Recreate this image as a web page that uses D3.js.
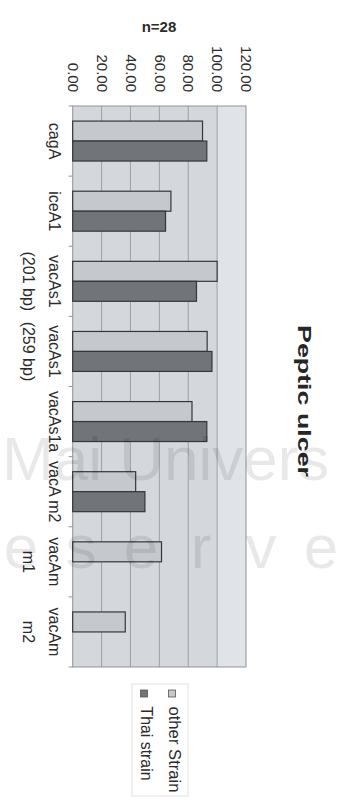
<!DOCTYPE html>
<html>
<head>
<meta charset="utf-8">
<script src="https://cdn.jsdelivr.net/npm/d3@7"></script>
<style>
  html, body { margin: 0; padding: 0; background: #ffffff; }
  svg { display: block; font-family: "Liberation Sans", Arial, sans-serif; }
</style>
</head>
<body>
<svg id="chart" width="340" height="801"></svg>
<script>
// Prevalence (%) of virulence genes in peptic ulcer isolates, n = 28
const categories = ["cagA", "iceA1", "vacAs1 (201 bp)", "vacAs1 (259 bp)", "vacAs1a", "vacA m2", "vacAm m1", "vacAm m2"];
const categoryLines = [["cagA"], ["iceA1"], ["vacAs1", "(201 bp)"], ["vacAs1", "(259 bp)"], ["vacAs1a"], ["vacA m2"], ["vacAm", "m1"], ["vacAm", "m2"]];
const seriesNames = ["other Strain", "Thai strain"];
const otherStrain = [89.9, 68.0, 100.0, 93.1, 82.6, 43.6, 61.5, 36.4];
const thaiStrain = [92.86, 64.29, 85.71, 96.43, 92.86, 50.0, null, null];
const tickValues = [0, 20, 40, 60, 80, 100, 120];
const chartTitle = "Peptic ulcer";
const sampleNote = "n=28";

const svg = d3.select("#chart");
const ink = "#2b2b2b";
const colors = { "other Strain": "#c5c9cd", "Thai strain": "#717579" };

// The chart is laid out turned a quarter turn: values run left to right,
// categories run top to bottom, and text reads downward.
const x = d3.scaleLinear().domain([0, 120]).range([72.7, 246]);
const y = d3.scaleBand().domain(categories).range([106, 667])
  .paddingInner(0.43).paddingOuter(0.215);
const ySeries = d3.scaleBand().domain(seriesNames).range([0, y.bandwidth()]);

const [yTop, yBottom] = y.range();

// plot area
const plot = svg.append("g");
plot.append("rect")
  .attr("x", x(0)).attr("y", yTop)
  .attr("width", x(120) - x(0)).attr("height", yBottom - yTop)
  .attr("fill", "#d4d8dd");
plot.append("rect")
  .attr("x", x(100)).attr("y", yTop)
  .attr("width", x(120) - x(100)).attr("height", yBottom - yTop)
  .attr("fill", "#e0e4e9");

// gridlines
plot.selectAll("line.grid")
  .data(tickValues.filter(v => v > 0 && v < 120))
  .join("line")
  .attr("class", "grid")
  .attr("x1", d => x(d)).attr("x2", d => x(d))
  .attr("y1", yTop).attr("y2", yBottom)
  .attr("stroke", "#9ca0a5").attr("stroke-width", 1);

// frame
plot.append("rect")
  .attr("x", x(0)).attr("y", yTop)
  .attr("width", x(120) - x(0)).attr("height", yBottom - yTop)
  .attr("fill", "none").attr("stroke", "#8f9397").attr("stroke-width", 1);

// category tick marks at the boundaries between groups
const boundaries = d3.range(categories.length + 1).map(i => yTop + i * y.step());
plot.selectAll("line.ctick")
  .data(boundaries)
  .join("line")
  .attr("class", "ctick")
  .attr("x1", x(0) - 4).attr("x2", x(0))
  .attr("y1", d => d).attr("y2", d => d)
  .attr("stroke", "#8f9397");

// value axis along the top, labels turned to read downward
const axis = svg.append("g")
  .attr("transform", `translate(0,${yTop})`)
  .call(d3.axisTop(x).tickValues(tickValues).tickSize(0).tickFormat(d3.format(".2f")));
axis.select(".domain").remove();
axis.selectAll("text")
  .attr("transform", "rotate(90)")
  .attr("x", -14).attr("y", 0).attr("dy", "0.35em")
  .attr("text-anchor", "end")
  .attr("fill", ink)
  .style("font-size", "15px");

// bars
const rows = categories.map((c, i) => ({ category: c, values: [
  { series: "other Strain", value: otherStrain[i] },
  { series: "Thai strain", value: thaiStrain[i] }
]}));
svg.append("g").selectAll("g")
  .data(rows)
  .join("g")
  .attr("transform", d => `translate(0,${y(d.category)})`)
  .selectAll("rect")
  .data(d => d.values.filter(v => v.value != null && v.value > 0))
  .join("rect")
  .attr("x", x(0))
  .attr("y", d => ySeries(d.series))
  .attr("width", d => x(d.value) - x(0))
  .attr("height", ySeries.bandwidth())
  .attr("fill", d => colors[d.series])
  .attr("stroke", "#363636").attr("stroke-width", 1.2);

// category labels
const catLabels = svg.append("g").selectAll("text")
  .data(categories)
  .join("text")
  .attr("transform", d => `translate(55,${y(d) + y.bandwidth() / 2}) rotate(90)`)
  .attr("text-anchor", "middle")
  .attr("fill", ink)
  .style("font-size", "16px");
catLabels.selectAll("tspan")
  .data((d, i) => categoryLines[i])
  .join("tspan")
  .attr("x", 0)
  .attr("dy", (d, j) => j === 0 ? "0.35em" : "1.62em")
  .text(d => d);

// title
svg.append("text")
  .attr("transform", "translate(298,401) rotate(90)")
  .attr("text-anchor", "middle")
  .attr("fill", "#262626")
  .attr("textLength", 152).attr("lengthAdjust", "spacingAndGlyphs")
  .style("font-size", "19px").style("font-weight", "bold")
  .text(chartTitle);

// sample size
svg.append("text")
  .attr("x", 159).attr("y", 31.5)
  .attr("text-anchor", "middle")
  .attr("fill", ink)
  .style("font-size", "15px").style("font-weight", "bold")
  .text(sampleNote);

// legend
const legend = svg.append("g");
legend.append("rect")
  .attr("x", 132).attr("y", 684).attr("width", 56).attr("height", 112)
  .attr("fill", "none").attr("stroke", "#e4e4e4");
const legendX = { "other Strain": 168.5, "Thai strain": 140.5 };
const legendLen = { "other Strain": 86, "Thai strain": 74 };
const items = legend.selectAll("g.item")
  .data(seriesNames)
  .join("g").attr("class", "item");
items.append("rect")
  .attr("x", d => legendX[d]).attr("y", 690)
  .attr("width", 7).attr("height", 7)
  .attr("fill", d => colors[d])
  .attr("stroke", "#555").attr("stroke-width", 0.8);
items.append("text")
  .attr("transform", d => `translate(${legendX[d]},706.5) rotate(90)`)
  .attr("text-anchor", "start")
  .attr("fill", ink)
  .attr("textLength", d => legendLen[d]).attr("lengthAdjust", "spacingAndGlyphs")
  .style("font-size", "16px")
  .text(d => d);

// faint copyright watermark printed over the page
const mark = svg.append("g")
  .attr("fill", "#000").attr("fill-opacity", 0.09)
  .style("pointer-events", "none");
mark.append("text")
  .attr("x", 2).attr("y", 480)
  .style("font-size", "62px")
  .text("Mai Univers");
const spaced = "eserve".split("");
mark.append("text")
  .attr("y", 568)
  .style("font-size", "62px")
  .selectAll("tspan")
  .data(spaced)
  .join("tspan")
  .attr("x", (d, i) => 21 + i * 60)
  .attr("text-anchor", "middle")
  .text(d => d);
</script>
</body>
</html>
